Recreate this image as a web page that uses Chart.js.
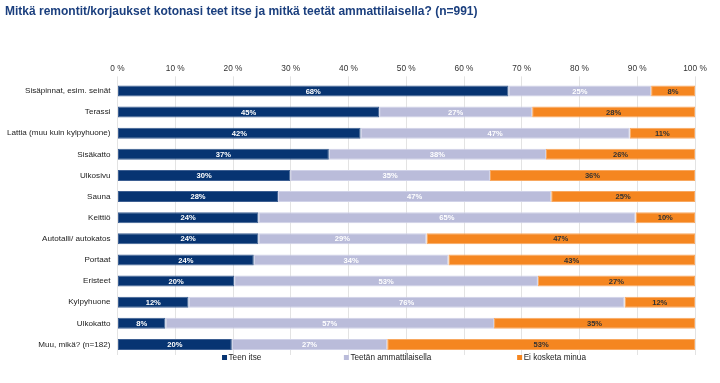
<!DOCTYPE html>
<html><head><meta charset="utf-8">
<script src="https://cdn.jsdelivr.net/npm/chart.js@4"></script>
<style>html,body{margin:0;padding:0;background:#fff}#wrap{width:720px;height:383px;position:relative}</style>
</head><body><div id="wrap"><canvas id="c"></canvas></div>
<script>
const titleText = 'Mitkä remontit/korjaukset kotonasi teet itse ja mitkä teetät ammattilaisella? (n=991)';
const categories = ['Sisäpinnat, esim. seinät','Terassi','Lattia (muu kuin kylpyhuone)','Sisäkatto','Ulkosivu','Sauna','Keittiö','Autotalli/ autokatos','Portaat','Eristeet','Kylpyhuone','Ulkokatto','Muu, mikä? (n=182)'];
const teenItse = [67.7,45.3,42.1,36.6,29.9,27.8,24.4,24.4,23.6,20.2,12.3,8.3,19.8];
const teetanAmmattilaisella = [24.7,26.5,46.6,37.6,34.6,47.3,65.3,29.1,33.7,52.6,75.5,56.9,26.9];
const eiKosketa = [7.6,28.2,11.3,25.8,35.5,24.9,10.3,46.5,42.7,27.2,12.2,34.8,53.3];
const seriesNames = ['Teen itse','Teetän ammattilaisella','Ei kosketa minua'];
const xTickValues = [0,10,20,30,40,50,60,70,80,90,100];

const colors = ['#073472','#BABCDA','#F58620'];
const borders = ['#3d5f92','#d0d2e8','#f8a860'];
const labelColors = ['#ffffff','#ffffff','#333333'];
const legendPos = [0.181,0.392,0.692];
const FONT = "'Liberation Sans', Arial, sans-serif";

const valueLabels = {
  id:'valueLabels',
  afterDatasetsDraw(chart){
    const ctx = chart.ctx;
    ctx.save();
    ctx.font = "bold 7.6px " + FONT;
    ctx.textAlign = 'center';
    ctx.textBaseline = 'middle';
    chart.data.datasets.forEach((ds,di)=>{
      const meta = chart.getDatasetMeta(di);
      ctx.fillStyle = labelColors[di];
      meta.data.forEach((el,i)=>{
        const v = ds.data[i];
        const x = (el.x + el.base)/2;
        ctx.fillText(Math.round(v)+'%', x, el.y+0.5);
      });
    });
    ctx.restore();
  }
};

const customLegend = {
  id:'customLegend',
  afterDraw(chart){
    const ctx = chart.ctx, ca = chart.chartArea;
    const y = ca.bottom + 2.5;
    ctx.save();
    ctx.font = "8.2px " + FONT;
    ctx.textBaseline = 'middle';
    ctx.textAlign = 'left';
    chart.data.datasets.forEach((ds,di)=>{
      const x = ca.left + (ca.right-ca.left)*legendPos[di];
      ctx.fillStyle = colors[di];
      ctx.fillRect(x, y-2.5, 5, 5);
      ctx.fillStyle = '#222';
      ctx.fillText(ds.label, x+6.5, y+0.5);
    });
    ctx.restore();
  }
};

new Chart(document.getElementById('c'), {
  type:'bar',
  data:{
    labels:categories,
    datasets:[
      {label:seriesNames[0], data:teenItse, backgroundColor:colors[0], borderColor:borders[0], borderWidth:1, borderSkipped:false},
      {label:seriesNames[1], data:teetanAmmattilaisella, backgroundColor:colors[1], borderColor:borders[1], borderWidth:1, borderSkipped:false},
      {label:seriesNames[2], data:eiKosketa, backgroundColor:colors[2], borderColor:borders[2], borderWidth:1, borderSkipped:false}
    ]
  },
  options:{
    indexAxis:'y',
    responsive:true,
    maintainAspectRatio:false,
    animation:false,
    layout:{padding:{left:5,right:25,top:4,bottom:28}},
    datasets:{bar:{categoryPercentage:1, barPercentage:0.52}},
    scales:{
      x:{
        position:'top', stacked:true, min:0, max:100,
        afterBuildTicks(s){ s.ticks = xTickValues.map(v=>({value:v})); },
        ticks:{callback:v=>v+' %', font:{family:FONT, size:8.3}, color:'#333', padding:3, maxRotation:0},
        grid:{color:'#e3e3e3', tickLength:4, drawTicks:true},
        border:{display:false}
      },
      y:{
        stacked:true,
        afterFit(s){ s.width = 112.5; },
        ticks:{font:{family:FONT, size:8.1}, color:'#222', padding:7},
        grid:{display:false, drawTicks:false},
        border:{display:false}
      }
    },
    plugins:{
      legend:{display:false},
      tooltip:{enabled:false},
      title:{display:true, text:titleText, align:'start', color:'#1B3F7E',
        font:{family:FONT, size:12, weight:'bold'}, padding:{top:0,bottom:42}}
    }
  },
  plugins:[valueLabels, customLegend]
});
</script>
</body></html>
